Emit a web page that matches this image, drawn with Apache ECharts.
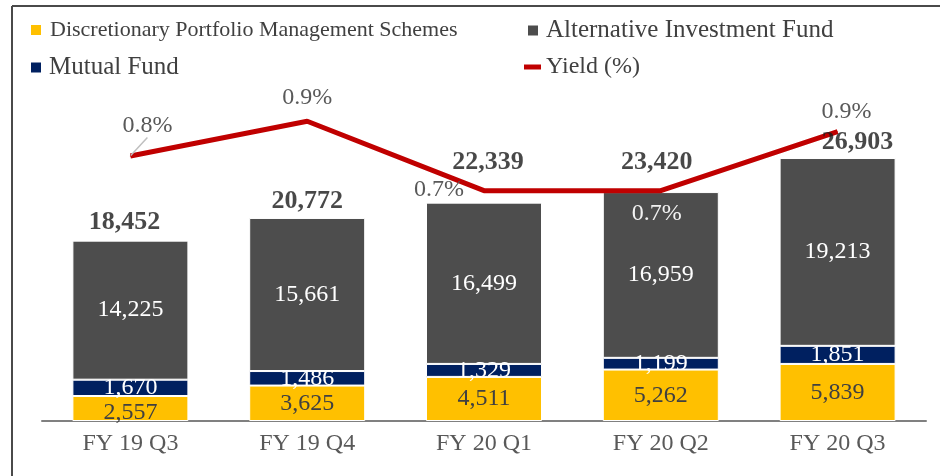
<!DOCTYPE html>
<html>
<head>
<meta charset="utf-8">
<script src="https://cdn.jsdelivr.net/npm/echarts@6/dist/echarts.min.js"></script>
<style>
  html, body { margin: 0; padding: 0; background: #fff; }
  #main { width: 940px; height: 476px; }
</style>
</head>
<body>
<div id="main"></div>
<script>
// data
var categories = ['FY 19 Q3', 'FY 19 Q4', 'FY 20 Q1', 'FY 20 Q2', 'FY 20 Q3'];
var dpms = [2557, 3625, 4511, 5262, 5839];
var mutualFund = [1670, 1486, 1329, 1199, 1851];
var aif = [14225, 15661, 16499, 16959, 19213];
var yieldPct = [0.8, 0.9, 0.7, 0.7, 0.87];

var totals = categories.map(function (c, i) { return dpms[i] + mutualFund[i] + aif[i]; });

var FONT = 'Liberation Serif';
function fmt(v) { return v.toLocaleString('en-US'); }

// label nudges (style only)
var yieldShift = [[17, -18], [0, -11], [-45, 12], [-4, 36], [9, -7]];
var totalShift = [[-6, -5], [0, -4], [4, -27], [-4, -17], [20, -3]];

var myChart = echarts.init(document.getElementById('main'));

function legendBox(name, left, top, opts) {
  return Object.assign({
    data: [name],
    left: left,
    top: top,
    padding: 0,
    icon: 'rect',
    itemWidth: 10,
    itemHeight: 10,
    itemStyle: { borderWidth: 0 },
    selectedMode: false,
    textStyle: { fontFamily: FONT, fontSize: 25, color: '#404040', padding: [0, 0, 0, 3] }
  }, opts || {});
}

var option = {
  animation: false,
  backgroundColor: '#fff',
  graphic: [
    { type: 'line', shape: { x1: 12, y1: 6, x2: 940, y2: 6 }, style: { stroke: '#4a4a4a', lineWidth: 2 } },
    { type: 'line', shape: { x1: 12, y1: 6, x2: 12, y2: 476 }, style: { stroke: '#4a4a4a', lineWidth: 2 } }
  ],
  legend: [
    legendBox('Discretionary Portfolio Management Schemes', 31, 19,
      { textStyle: { fontFamily: FONT, fontSize: 22, color: '#404040', padding: [0, 0, 0, 4] } }),
    legendBox('Alternative Investment Fund', 528, 18),
    legendBox('Mutual Fund', 31, 55),
    legendBox('Yield (%)', 524, 55, { itemWidth: 17, itemHeight: 5,
      textStyle: { fontFamily: FONT, fontSize: 24, color: '#404040', padding: [0, 0, 0, 0] } })
  ],
  grid: { left: 42, right: 14, top: 30, bottom: 55, containLabel: false },
  xAxis: {
    type: 'category',
    data: categories,
    axisLine: { lineStyle: { color: '#808080', width: 2 } },
    axisTick: { show: false },
    axisLabel: { fontFamily: FONT, fontSize: 24, color: '#595959', margin: 11 }
  },
  yAxis: [
    { type: 'value', min: 0, max: 40000, show: false, splitLine: { show: false } },
    { type: 'value', min: 0.036, max: 1.163, show: false, splitLine: { show: false } }
  ],
  series: [
    {
      name: 'Discretionary Portfolio Management Schemes',
      type: 'bar',
      stack: 'aum',
      barWidth: 116,
      data: dpms,
      itemStyle: { color: '#FFC000', borderColor: '#fff', borderWidth: 1 },
      label: {
        show: true, position: 'inside', fontFamily: FONT, fontSize: 24, color: '#404040',
        formatter: function (p) { return fmt(p.value); }
      },
      labelLayout: function (p) { return p.dataIndex === 0 ? { dy: 4 } : {}; }
    },
    {
      name: 'Mutual Fund',
      type: 'bar',
      stack: 'aum',
      data: mutualFund,
      itemStyle: { color: '#002060', borderColor: '#fff', borderWidth: 1 },
      label: {
        show: true, position: 'inside', fontFamily: FONT, fontSize: 24, color: '#fff',
        formatter: function (p) { return fmt(p.value); }
      }
    },
    {
      name: 'Alternative Investment Fund',
      type: 'bar',
      stack: 'aum',
      data: aif,
      itemStyle: { color: '#4D4D4D', borderColor: '#fff', borderWidth: 1 },
      label: {
        show: true, position: 'inside', fontFamily: FONT, fontSize: 24, color: '#fff',
        formatter: function (p) { return fmt(p.value); }
      }
    },
    {
      name: 'Yield (%)',
      type: 'line',
      yAxisIndex: 1,
      z: 5,
      symbol: 'circle',
      symbolSize: 1,
      itemStyle: { color: '#C00000' },
      lineStyle: { color: '#C00000', width: 5 },
      data: yieldPct.map(function (v, i) {
        return {
          value: v,
          label: i === 3 ? { color: '#F2F2F2' } : {},
          labelLine: { show: i === 0 }
        };
      }),
      label: {
        show: true, position: 'top', distance: 0, fontFamily: FONT, fontSize: 24, color: '#595959',
        formatter: function (p) { return p.value.toFixed(1) + '%'; }
      },
      labelLine: { show: false, lineStyle: { color: '#BFBFBF', width: 1.5 } },
      labelLayout: function (p) {
        return { dx: yieldShift[p.dataIndex][0], dy: yieldShift[p.dataIndex][1] };
      }
    },
    {
      name: 'Total',
      type: 'scatter',
      z: 6,
      symbolSize: 0,
      data: totals,
      label: {
        show: true, position: 'top', distance: 0, fontFamily: FONT, fontSize: 26,
        fontWeight: 'bold', color: '#1a1a1a',
        formatter: function (p) { return fmt(p.value); }
      },
      labelLayout: function (p) {
        return { dx: totalShift[p.dataIndex][0], dy: totalShift[p.dataIndex][1] };
      }
    }
  ]
};

myChart.setOption(option);
</script>
</body>
</html>
